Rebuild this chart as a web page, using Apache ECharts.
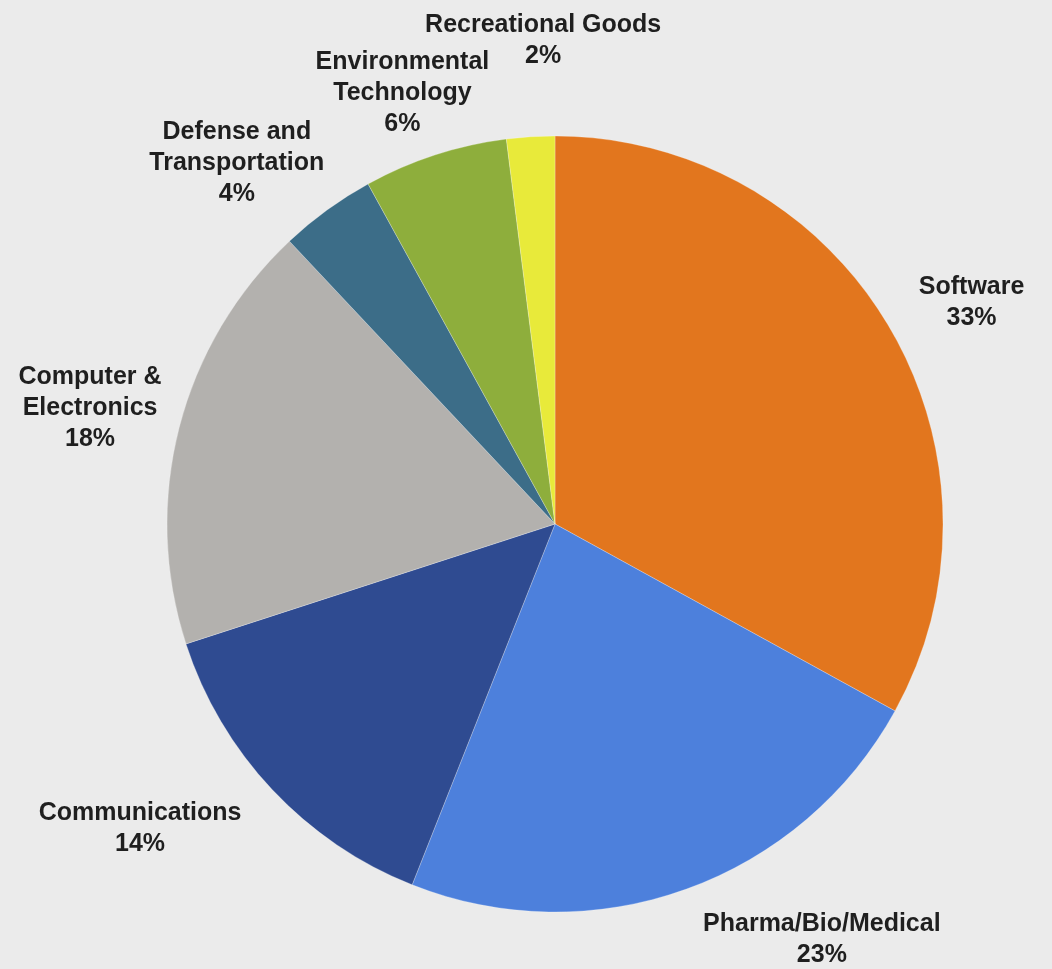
<!DOCTYPE html>
<html>
<head>
<meta charset="utf-8">
<script src="https://cdn.jsdelivr.net/npm/echarts@6/dist/echarts.min.js"></script>
<style>
  html, body { margin: 0; padding: 0; background: #ebebeb; }
  #chart { width: 1052px; height: 969px; }
</style>
</head>
<body>
<div id="chart"></div>
<script>
// Sectors, clockwise from 12 o'clock
const categories = [
  'Software',
  'Pharma/Bio/Medical',
  'Communications',
  'Computer &\nElectronics',
  'Defense and\nTransportation',
  'Environmental\nTechnology',
  'Recreational Goods'
];
const shares = [33, 23, 14, 18, 4, 6, 2];
const sliceColors = ['#e2761e', '#4d80dc', '#2f4b91', '#b3b1ae', '#3c6d88', '#8eae3c', '#e8ea3a'];

// Label placement: angular nudge (degrees) from the slice middle and distance as a multiple of the radius
const labelNudge = [2.6, -12.9, 6.9, -0.4, -5.4, -1.5, 2.2];
const labelDist = [1.216, 1.273, 1.327, 1.235, 1.24, 1.178, 1.247];

const CX = 555, CY = 524, R = 388;
const total = shares.reduce((a, b) => a + b, 0);
const midAngles = [];
let acc = 0;
shares.forEach(v => { midAngles.push((acc + v / 2) / total * 360); acc += v; });

const chart = echarts.init(document.getElementById('chart'), null, { renderer: 'canvas' });
chart.setOption({
  backgroundColor: '#ebebeb',
  animation: false,
  series: [{
    type: 'pie',
    center: [CX, CY],
    radius: [0, R],
    startAngle: 90,
    clockwise: true,
    data: categories.map((name, i) => ({
      name, value: shares[i], itemStyle: { color: sliceColors[i] }
    })),
    itemStyle: { borderColor: 'rgba(255,255,255,0.25)', borderWidth: 1 },
    label: {
      show: true,
      position: 'outside',
      formatter: p => p.name + '\n' + p.value + '%',
      fontFamily: '"Liberation Sans", Arial, sans-serif',
      fontWeight: 'bold',
      fontSize: 25,
      lineHeight: 31,
      color: '#1f1f1f',
      align: 'center',
      overflow: 'none',
      width: 400
    },
    labelLine: { show: false },
    labelLayout: params => {
      const i = params.dataIndex;
      const a = (midAngles[i] + labelNudge[i]) * Math.PI / 180;
      const d = R * labelDist[i];
      return {
        x: CX + d * Math.sin(a),
        y: CY - d * Math.cos(a),
        align: 'center',
        verticalAlign: 'middle'
      };
    }
  }]
});
</script>
</body>
</html>
